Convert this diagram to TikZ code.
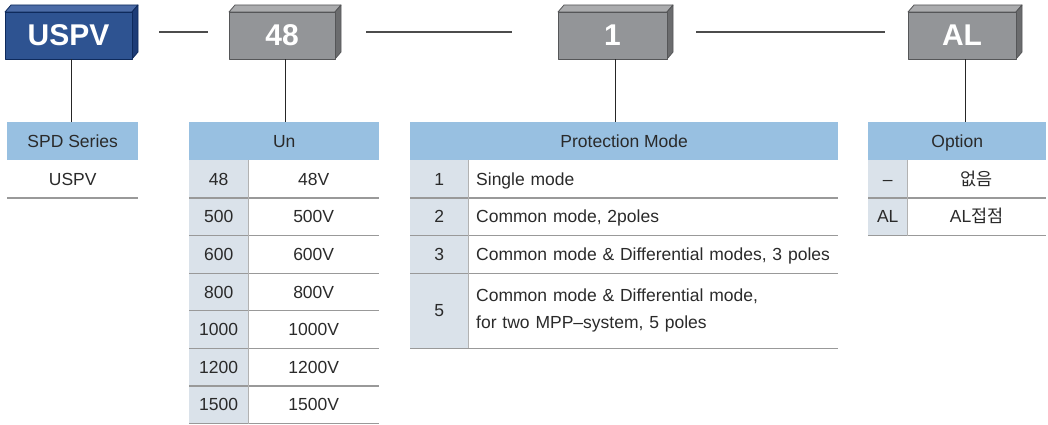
\documentclass[tikz,border=0pt]{standalone}
\usepackage{fontspec}
\setmainfont{Liberation Sans}
\newfontfamily\krfont{Noto Sans CJK KR}
\usepackage{tikz}
\usetikzlibrary{positioning,calc}
\definecolor{frontblue}{HTML}{2E5391}
\definecolor{topblue}{HTML}{4B6BA6}
\definecolor{sideblue}{HTML}{1D3C77}
\definecolor{edgeblue}{HTML}{0E2A5C}
\definecolor{frontgray}{HTML}{939598}
\definecolor{topgray}{HTML}{ABACAE}
\definecolor{sidegray}{HTML}{6B6C6E}
\definecolor{edgegray}{HTML}{555658}
\definecolor{hdrblue}{HTML}{98C0E1}
\definecolor{keyfill}{HTML}{DAE2EA}
\definecolor{txtdark}{HTML}{2A2A2A}
\definecolor{rulegray}{HTML}{999999}

\begin{document}
\begin{tikzpicture}[x=1pt,y=-1pt,
  codeBox/.style ={inner sep=0pt, minimum height=54pt},
  codeLbl/.style ={font=\fontsize{30}{36}\selectfont\bfseries, text=white},
  oneLine/.style ={text height=12.6pt, text depth=0pt},
  hdrCell/.style ={fill=hdrblue, anchor=north west, inner sep=0pt, minimum height=38pt, oneLine, font=\fontsize{17.5}{21}\selectfont, text=txtdark},
  keyCell/.style ={fill=keyfill, anchor=north west, inner sep=0pt, oneLine, font=\fontsize{17.5}{21}\selectfont, text=txtdark},
  valCell/.style ={anchor=north west, inner sep=0pt, font=\fontsize{17.5}{21}\selectfont, text=txtdark},
  dashL/.style ={line width=2.5pt, color=black!70},
  dropL/.style ={line width=1pt, color=black!85},
  rowL/.style ={line width=1.2pt, color=rulegray},
  colL/.style ={line width=1.8pt, color=rulegray!75},
  faceE/.style ={line width=0.8pt, line join=round},
]
\useasboundingbox (0,0) rectangle (1048,425);
\def\rowH{37.6}
% code boxes: name / left / right / colour scheme / label
\foreach \nm/\xa/\xb/\sc/\lb in {uspv/5/138/blue/USPV, volt/229/341/gray/48, mode/558/673/gray/1, opt/908/1022/gray/AL} {
  \filldraw[faceE, fill=top\sc, draw=edge\sc] (\xa,12) -- (\xa+6,5) -- (\xb,5) -- (\xb-6,12) -- cycle;
  \filldraw[faceE, fill=side\sc, draw=edge\sc] (\xb-6,12) -- (\xb,5) -- (\xb,52) -- (\xb-6,59) -- cycle;
  \filldraw[faceE, fill=front\sc, draw=edge\sc] (\xa,12) rectangle (\xb-6,59);
  \node[codeBox, minimum width=\xb-\xa] (\nm) at ({(\xa+\xb)/2},32) {};
  \node[codeLbl] (\nm lbl) at ({(\xa+\xb-6)/2},35.5) {\lb};
}
% dashes between the code boxes
\draw[dashL] ([xshift=21pt]uspv.east) -- ([xshift=-21pt]volt.west);
\draw[dashL] ([xshift=25pt]volt.east) -- ([xshift=-46pt]mode.west);
\draw[dashL] ([xshift=23pt]mode.east) -- ([xshift=-23pt]opt.west);

% SPD series table
\node[hdrCell, minimum width=131pt] (spdH) at (7,122) {SPD Series};
\node[valCell, oneLine, minimum width=131pt, minimum height=\rowH] (spdV) at (7,160) {USPV};
\draw[rowL] (spdV.south west) -- (spdV.south east);

% Un table
\node[hdrCell, minimum width=190pt] (unH) at (189,122) {Un};
\foreach \i/\vv in {1/48, 2/500, 3/600, 4/800, 5/1000, 6/1200, 7/1500} {
  \node[keyCell, minimum width=59pt, minimum height=\rowH] (unK\i) at (189,{160+(\i-1)*\rowH}) {\vv};
  \node[valCell, oneLine, minimum width=131pt, minimum height=\rowH] (unV\i) at (248,{160+(\i-1)*\rowH}) {\vv V};
}
\foreach \i in {1,...,7}
  \draw[rowL] (unK\i.south west) -- (unV\i.south east);
\draw[colL] (unK1.north east) -- (unK7.south east);

% Protection mode table
\node[hdrCell, minimum width=428pt] (pmH) at (410,122) {Protection Mode};
\foreach \i/\vv/\tx in {1/1/{Single mode},
    2/2/{Common mode, 2poles},
    3/3/{Common mode \& Differential modes, 3 poles}} {
  \node[keyCell, minimum width=58pt, minimum height=\rowH] (pmK\i) at (410,{160+(\i-1)*\rowH}) {\vv};
  \node[valCell, oneLine, text width=354pt, inner xsep=8pt, align=left, minimum height=\rowH] (pmV\i) at (468,{160+(\i-1)*\rowH}) {\tx};
}
\node[keyCell, minimum width=58pt, minimum height=75.2pt] (pmK4) at (410,272.8) {5};
\node[valCell, text width=354pt, inner xsep=8pt, align=left, minimum height=75.2pt,
      font=\fontsize{17.5}{27}\selectfont] (pmV4) at (468,272.8)
  {Common mode \& Differential mode,\\for two MPP–system, 5 poles};
\foreach \i in {1,...,4}
  \draw[rowL] (pmK\i.south west) -- (pmV\i.south east);
\draw[colL] (pmK1.north east) -- (pmK4.south east);

% Option table
\node[hdrCell, minimum width=178pt] (opH) at (868,122) {Option};
\foreach \i/\vv/\tx in {1/–/{{\krfont 없음}}, 2/AL/{AL{\krfont 접점}}} {
  \node[keyCell, minimum width=39pt, minimum height=\rowH] (opK\i) at (868,{160+(\i-1)*\rowH}) {\vv};
  \node[valCell, oneLine, minimum width=139pt, minimum height=\rowH] (opV\i) at (907,{160+(\i-1)*\rowH}) {\tx};
}
\foreach \i in {1,2}
  \draw[rowL] (opK\i.south west) -- (opV\i.south east);
\draw[colL] (opK1.north east) -- (opK2.south east);

% drops from code boxes to tables
\draw[dropL] (uspv.south) -- (uspv.south |- spdH.north);
\draw[dropL] (volt.south) -- (volt.south |- unH.north);
\draw[dropL] (mode.south) -- (mode.south |- pmH.north);
\draw[dropL] (opt.south) -- (opt.south |- opH.north);
\end{tikzpicture}
\end{document}
